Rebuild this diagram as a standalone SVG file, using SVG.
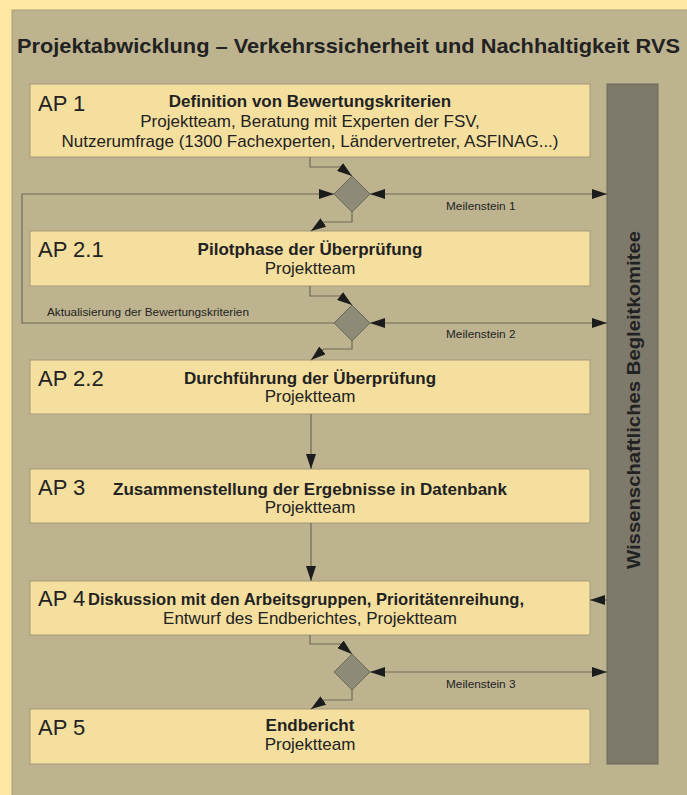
<svg xmlns="http://www.w3.org/2000/svg" width="687" height="795" viewBox="0 0 687 795">
  <defs>
    <marker id="ah" viewBox="0 0 15 10" refX="15" refY="5" markerWidth="15" markerHeight="10" markerUnits="userSpaceOnUse" orient="auto-start-reverse">
      <path d="M0,0 L15,5 L0,10 z" fill="#1c1c1c"/>
    </marker>
    <style>
      .box { fill: #F5DF9E; stroke: #A39878; stroke-width: 1; }
      .dia { fill: #8E8A78; stroke: #6E6A58; stroke-width: 1; }
      .ap { font-family: "Liberation Sans", Arial, sans-serif; font-size: 22px; fill: #222; }
      .t1 { font-family: "Liberation Sans", Arial, sans-serif; font-size: 17px; font-weight: bold; fill: #222; text-anchor: middle; }
      .t2 { font-family: "Liberation Sans", Arial, sans-serif; font-size: 17px; fill: #222; text-anchor: middle; }
      .lbl { font-family: "Liberation Sans", Arial, sans-serif; font-size: 11.8px; fill: #222; }
      .con { fill: none; stroke: #6E6A58; stroke-width: 1.2; }
    </style>
  </defs>
  <rect x="0" y="0" width="687" height="795" fill="#FCE8A3"/>
  <rect x="12" y="10" width="680" height="790" fill="#BEB38F" stroke="#A89E7C" stroke-width="1"/>
  <text x="17" y="53" font-family="'Liberation Sans', Arial, sans-serif" font-size="21" font-weight="bold" fill="#222" textLength="663" lengthAdjust="spacingAndGlyphs">Projektabwicklung – Verkehrssicherheit und Nachhaltigkeit RVS</text>

  <g id="committee">
    <rect x="607" y="84" width="51" height="680" fill="#7E7A6B" stroke="#6A6658" stroke-width="1"/>
    <text transform="translate(640,400) rotate(-90)" text-anchor="middle" font-family="'Liberation Sans', Arial, sans-serif" font-size="19" font-weight="bold" fill="#222" textLength="338" lengthAdjust="spacingAndGlyphs">Wissenschaftliches Begleitkomitee</text>
  </g>

  <g id="ap1">
    <rect class="box" x="30" y="84" width="560" height="73"/>
    <text class="ap" x="38" y="111">AP 1</text>
    <text class="t1" x="310" y="107">Definition von Bewertungskriterien</text>
    <text class="t2" x="310" y="127">Projektteam, Beratung mit Experten der FSV,</text>
    <text class="t2" x="310" y="147">Nutzerumfrage (1300 Fachexperten, Ländervertreter, ASFINAG...)</text>
  </g>
  <g id="ap21">
    <rect class="box" x="30" y="231" width="560" height="55"/>
    <text class="ap" x="38" y="257">AP 2.1</text>
    <text class="t1" x="310" y="255">Pilotphase der Überprüfung</text>
    <text class="t2" x="310" y="274">Projektteam</text>
  </g>
  <g id="ap22">
    <rect class="box" x="30" y="360" width="560" height="54"/>
    <text class="ap" x="38" y="386">AP 2.2</text>
    <text class="t1" x="310" y="384">Durchführung der Überprüfung</text>
    <text class="t2" x="310" y="402">Projektteam</text>
  </g>
  <g id="ap3">
    <rect class="box" x="30" y="469" width="560" height="54"/>
    <text class="ap" x="38" y="495">AP 3</text>
    <text class="t1" x="310" y="495">Zusammenstellung der Ergebnisse in Datenbank</text>
    <text class="t2" x="310" y="513">Projektteam</text>
  </g>
  <g id="ap4">
    <rect class="box" x="30" y="581" width="560" height="54"/>
    <text class="ap" x="38" y="606">AP 4</text>
    <text class="t1" x="306" y="605" textLength="436" lengthAdjust="spacingAndGlyphs">Diskussion mit den Arbeitsgruppen, Prioritätenreihung,</text>
    <text class="t2" x="310" y="624">Entwurf des Endberichtes, Projektteam</text>
  </g>
  <g id="ap5">
    <rect class="box" x="30" y="709" width="560" height="55"/>
    <text class="ap" x="38" y="735">AP 5</text>
    <text class="t1" x="310" y="731">Endbericht</text>
    <text class="t2" x="310" y="750">Projektteam</text>
  </g>

  <g id="m1"><polygon class="dia" points="352,176 370,194 352,212 334,194"/></g>
  <g id="m2"><polygon class="dia" points="352,305 370,323 352,341 334,323"/></g>
  <g id="m3"><polygon class="dia" points="352,654 370,672 352,690 334,672"/></g>

  <g id="connectors">
    <path class="con" d="M310,157 V167 H340 L352,176" marker-end="url(#ah)"/>
    <path class="con" d="M352,212 V222 H324 L311,231" marker-end="url(#ah)"/>
    <path class="con" d="M334,323 H22 V194 H334" marker-end="url(#ah)"/>
    <path class="con" d="M370,194 H607" marker-start="url(#ah)" marker-end="url(#ah)"/>
    <path class="con" d="M310,286 V296 H340 L352,305" marker-end="url(#ah)"/>
    <path class="con" d="M352,341 V349 H324 L311,360" marker-end="url(#ah)"/>
    <path class="con" d="M370,323 H607" marker-start="url(#ah)" marker-end="url(#ah)"/>
    <path class="con" d="M311,414 V469" marker-end="url(#ah)"/>
    <path class="con" d="M311,523 V581" marker-end="url(#ah)"/>
    <path class="con" d="M607,600 H590" marker-end="url(#ah)"/>
    <path class="con" d="M310,635 V644 H340 L352,654" marker-end="url(#ah)"/>
    <path class="con" d="M352,690 V700 H324 L311,709" marker-end="url(#ah)"/>
    <path class="con" d="M370,672 H607" marker-start="url(#ah)" marker-end="url(#ah)"/>
    <text class="lbl" x="446" y="210">Meilenstein 1</text>
    <text class="lbl" x="446" y="338">Meilenstein 2</text>
    <text class="lbl" x="446" y="688">Meilenstein 3</text>
    <text class="lbl" x="47" y="316">Aktualisierung der Bewertungskriterien</text>
  </g>
</svg>
